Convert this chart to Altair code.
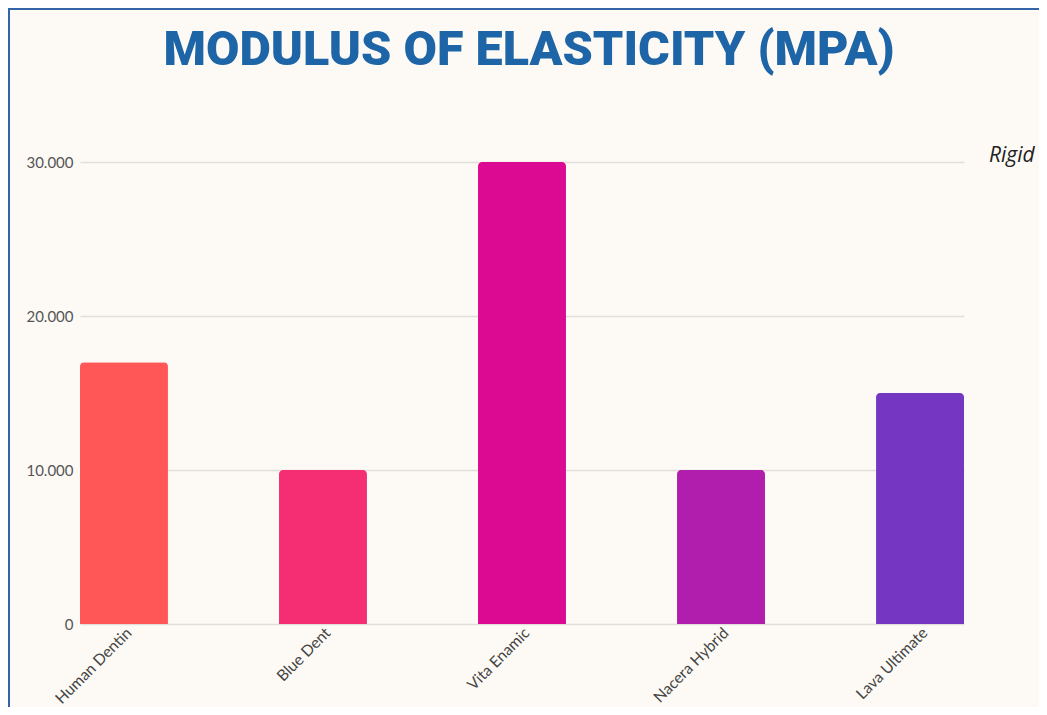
import altair as alt
import pandas as pd

materials = ["Human Dentin", "Blue Dent", "Vita Enamic", "Nacera Hybrid", "Lava Ultimate"]
modulus = [17000, 10000, 30000, 10000, 15000]
colors = ["#FF5757", "#F52E74", "#DC0A93", "#B11DAD", "#7537C2"]
y_ticks = [0, 10000, 20000, 30000]
side_label = ["Rigid"]
title_text = ["MODULUS OF ELASTICITY (MPA)"]

W, H = 884, 462
df = pd.DataFrame({"material": materials, "modulus": modulus})

bars = alt.Chart(df).mark_bar(cornerRadiusTopLeft=4, cornerRadiusTopRight=4).encode(
    x=alt.X(
        "material:N", sort=materials,
        scale=alt.Scale(paddingInner=0.558, paddingOuter=0),
        axis=alt.Axis(title=None, labelAngle=-45, labelAlign="right", labelBaseline="middle",
                      labelFont="Lato", labelFontSize=15.5, labelColor="#444444",
                      ticks=False, domain=False, labelPadding=6, labelOffset=5, grid=False),
    ),
    y=alt.Y(
        "modulus:Q",
        scale=alt.Scale(domain=[0, 30000], nice=False),
        axis=alt.Axis(title=None, values=y_ticks,
                      labelExpr="replace(format(datum.value, ','), ',', '.')",
                      labelFont="Lato", labelFontSize=15, labelColor="#555555",
                      ticks=False, domain=False, labelPadding=7,
                      grid=True, gridColor="#E2DFDA", gridWidth=1.5),
    ),
    color=alt.Color("material:N", scale=alt.Scale(domain=materials, range=colors), legend=None),
)

rigid = alt.Chart(pd.DataFrame({"t": side_label})).mark_text(
    align="left", baseline="alphabetic", font="Open Sans", fontStyle="italic",
    fontSize=21, color="#222222",
).encode(x=alt.value(W + 25), y=alt.datum(30000), text="t:N")

title = alt.Chart(pd.DataFrame({"t": title_text})).mark_text(
    align="center", baseline="alphabetic", font="Roboto",
    fontSize=48.5, fontWeight=900, color="#1D65A6",
).encode(x=alt.value(W / 2 + 7), y=alt.value(-97), text="t:N")

top_edge = alt.Chart(pd.DataFrame({"b": [0]})).mark_rule(color="#3464A8", strokeWidth=2).encode(
    x=alt.value(-72), x2=alt.value(W + 300), y=alt.value(-153)
)
left_edge = alt.Chart(pd.DataFrame({"b": [0]})).mark_rule(color="#3464A8", strokeWidth=2).encode(
    x=alt.value(-71), y=alt.value(-154), y2=alt.value(H + 300)
)

chart = alt.layer(bars, rigid, title, top_edge, left_edge).properties(
    width=W, height=H,
    autosize=alt.AutoSizeParams(type="none"),
    padding={"left": 72, "top": 154, "right": 75, "bottom": 83},
    background="#FDFAF5",
).configure_view(stroke=None)

chart.save("out.html", embed_options={"renderer": "svg", "actions": False})
